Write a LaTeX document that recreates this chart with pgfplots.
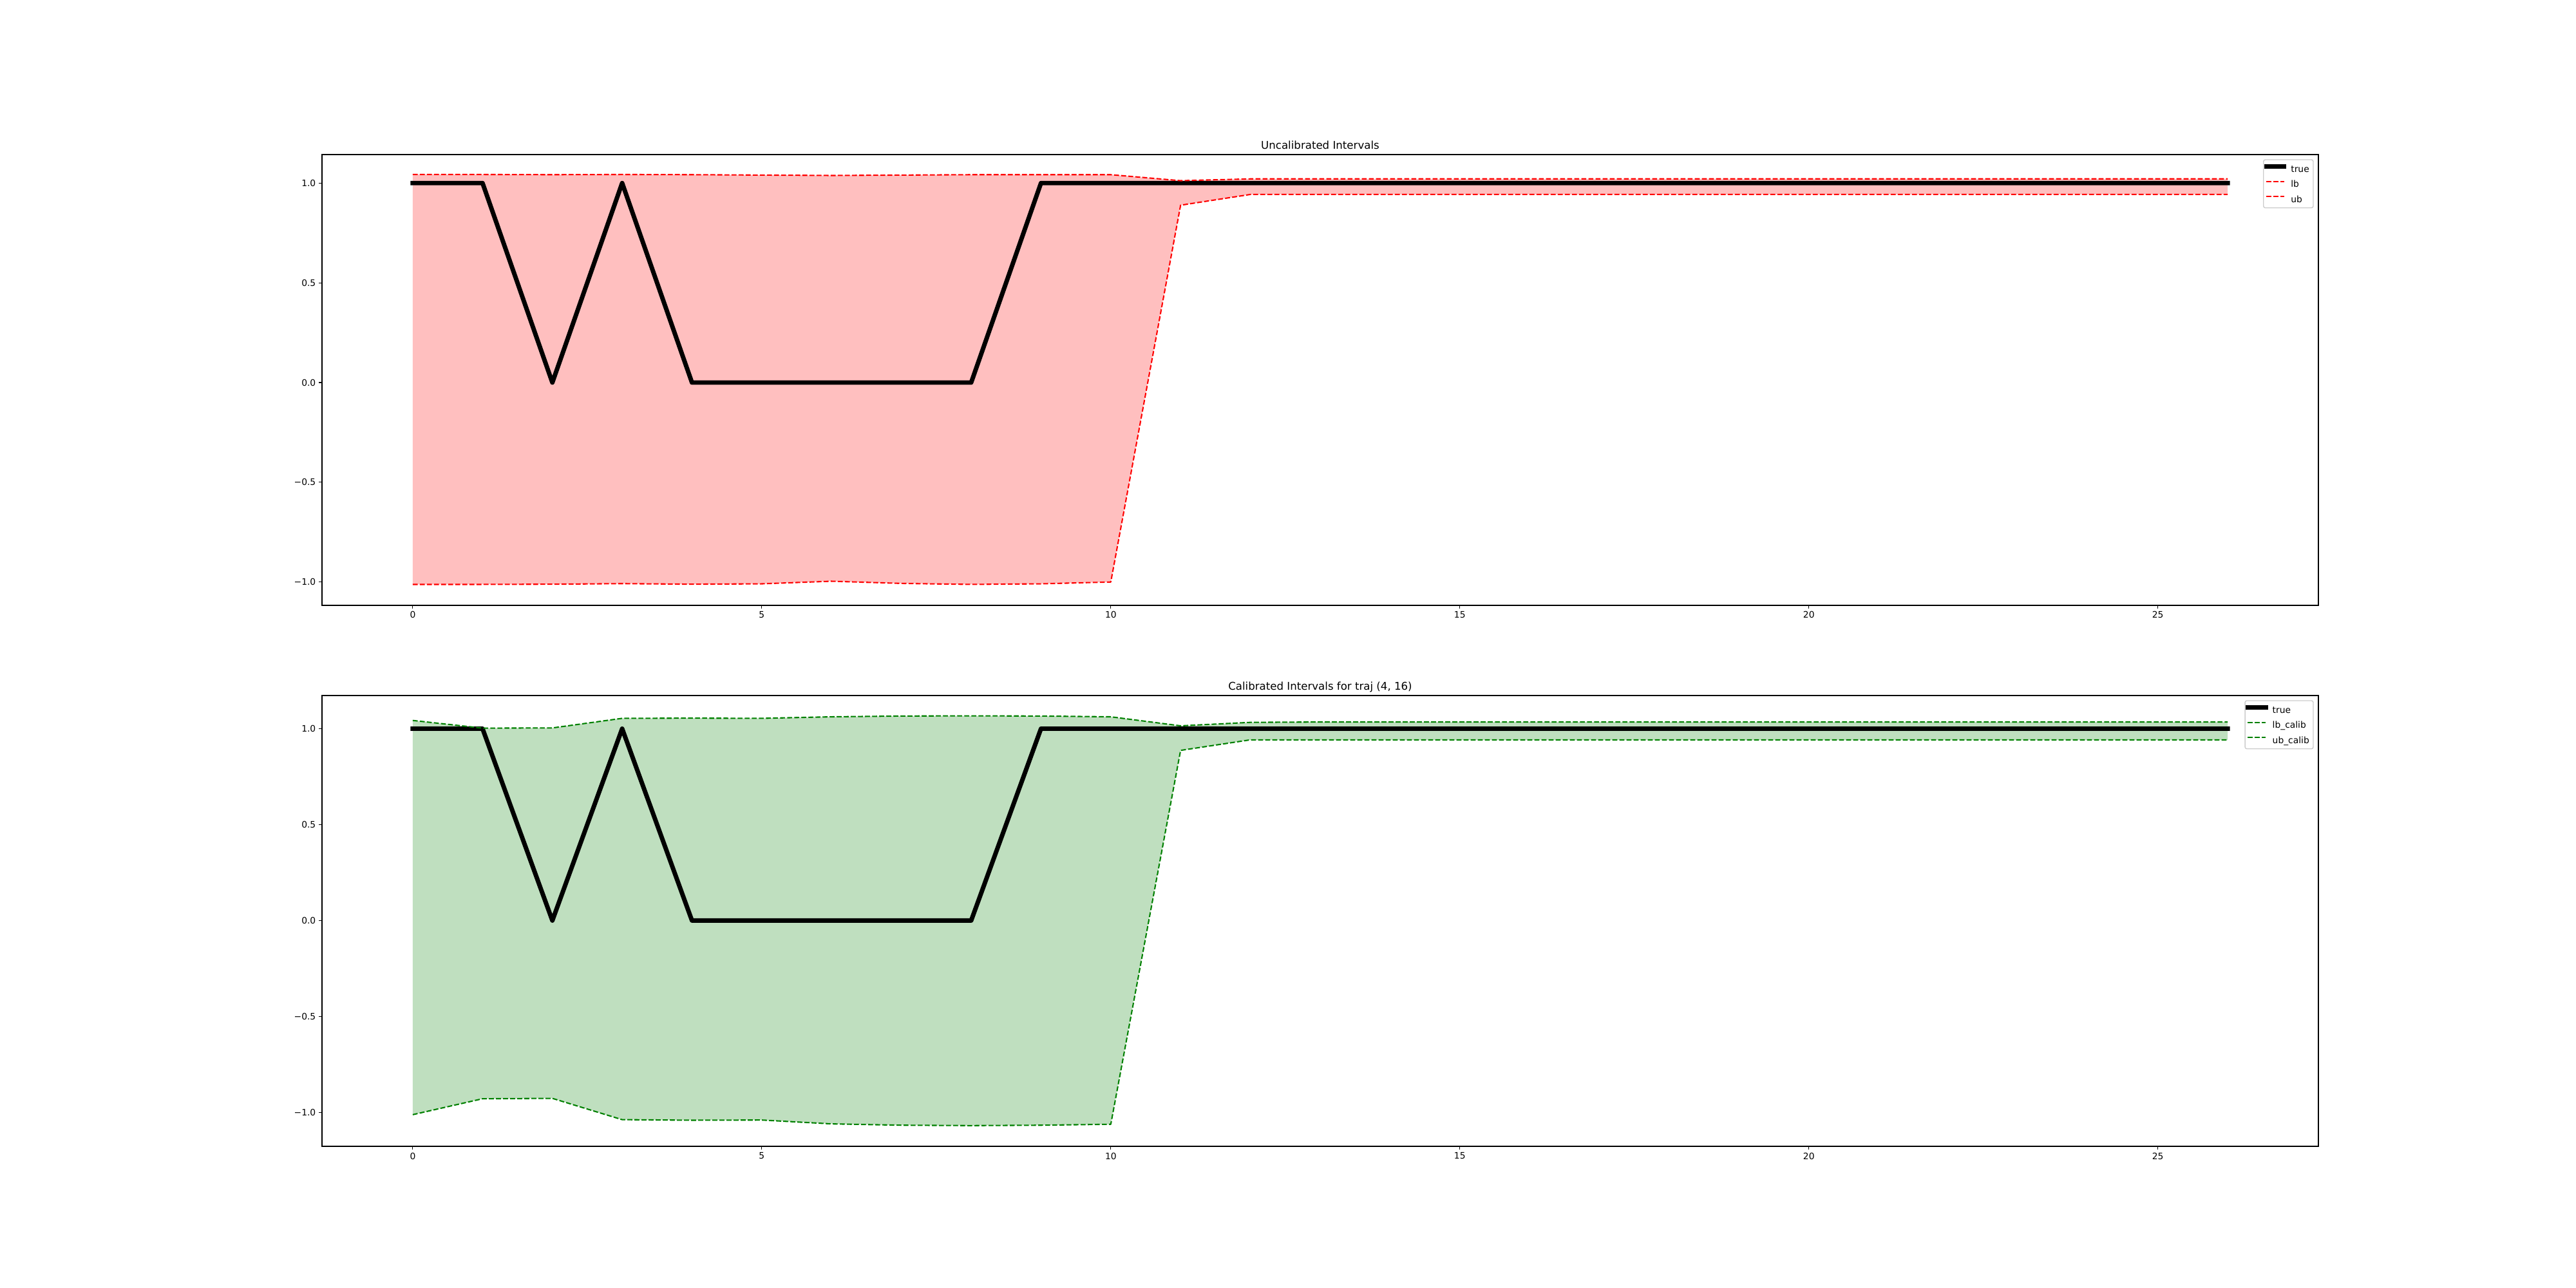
\documentclass[border=0pt]{standalone}
\usepackage{fontspec}
\setmainfont{DejaVu Sans}
\usepackage{pgfplots}
\pgfplotsset{compat=1.18}
\usepackage{pgfplotstable}
\definecolor{mplgreen}{RGB}{0,128,0}
\pgfplotstableread{
x true lb ub lbc ubc
0 1 -1.012 1.043 -1.012 1.043
1 1 -1.012 1.043 -0.929 1.003
2 0 -1.011 1.042 -0.927 1.004
3 1 -1.008 1.043 -1.038 1.054
4 0 -1.011 1.042 -1.041 1.055
5 0 -1.009 1.040 -1.040 1.054
6 0 -0.996 1.038 -1.060 1.062
7 0 -1.007 1.040 -1.067 1.066
8 0 -1.012 1.042 -1.069 1.067
9 1 -1.009 1.042 -1.067 1.066
10 1 -1.000 1.042 -1.062 1.062
11 1 0.889 1.012 0.887 1.015
12 1 0.943 1.021 0.942 1.033
13 1 0.943 1.021 0.942 1.035
14 1 0.943 1.021 0.942 1.035
15 1 0.943 1.021 0.942 1.035
16 1 0.943 1.021 0.942 1.035
17 1 0.943 1.021 0.942 1.035
18 1 0.943 1.021 0.942 1.035
19 1 0.943 1.021 0.942 1.035
20 1 0.943 1.021 0.942 1.035
21 1 0.943 1.021 0.942 1.035
22 1 0.943 1.021 0.942 1.035
23 1 0.943 1.021 0.942 1.035
24 1 0.943 1.021 0.942 1.035
25 1 0.943 1.021 0.942 1.035
26 1 0.943 1.021 0.942 1.035
}\data
% band polygons: upper bound forward, lower bound backward
\pgfplotstableread{
x y
0 1.043
1 1.043
2 1.042
3 1.043
4 1.042
5 1.040
6 1.038
7 1.040
8 1.042
9 1.042
10 1.042
11 1.012
12 1.021
26 1.021
26 0.943
12 0.943
11 0.889
10 -1.000
9 -1.009
8 -1.012
7 -1.007
6 -0.996
5 -1.009
4 -1.011
3 -1.008
2 -1.011
1 -1.012
0 -1.012
}\bandA
\pgfplotstableread{
x y
0 1.043
1 1.003
2 1.004
3 1.054
4 1.055
5 1.054
6 1.062
7 1.066
8 1.067
9 1.066
10 1.062
11 1.015
12 1.033
13 1.035
26 1.035
26 0.942
12 0.942
11 0.887
10 -1.062
9 -1.067
8 -1.069
7 -1.067
6 -1.060
5 -1.040
4 -1.041
3 -1.038
2 -0.927
1 -0.929
0 -1.012
}\bandB
\pgfplotsset{
  mplaxis/.style={
    scale only axis, width=31in, height=7in, anchor=south west,
    xmin=-1.3, xmax=27.3,
    axis line style={line width=0.8pt, black},
    tick pos=left, tick align=outside, major tick length=3.5pt,
    major tick style={line width=0.8pt, black},
    xtick={0,5,10,15,20,25}, xticklabels={0,5,10,15,20,25},
    ytick={-1,-0.5,0,0.5,1}, yticklabels={−1.0,−0.5,0.0,0.5,1.0},
    ticklabel style={font=\fontsize{10}{12}\selectfont},
    /pgf/number format/assume math mode=true,
    every axis title shift=0pt,
    title style={font=\fontsize{12}{14}\selectfont, at={(0.5,1)}, anchor=base, yshift=6pt, inner sep=0pt},
    legend style={at={(1,1)}, anchor=north east, xshift=-5.3pt, yshift=-5.3pt,
      draw=black!20, line width=1pt, rounded corners=2pt, fill=white, fill opacity=0.8, text opacity=1,
      font=\fontsize{10}{12}\selectfont, inner xsep=4.5pt, inner ysep=4.1pt, row sep=4.9pt, column sep=7.7pt,
      nodes={inner sep=0pt, text height=7.9pt, text depth=2.1pt}},
    legend cell align=left,
    legend image code/.code={\draw[##1, overlay] (0pt,3.6pt) -- (20pt,3.6pt); \pgfpathrectangle{\pgfpoint{1.4pt}{0pt}}{\pgfpoint{18.6pt}{7pt}}\pgfusepath{}},
  },
  truestyle/.style={black, line width=5pt, line cap=rect, line join=round},
  dstyle/.style={line width=1.5pt, dash pattern=on 5.55pt off 2.4pt, line join=round},
}
\begin{document}
\begin{tikzpicture}
\path[use as bounding box] (0,0) rectangle (40in,20in);
\begin{axis}[mplaxis, at={(5in,10.6in)}, ymin=-1.117, ymax=1.143, title={Uncalibrated Intervals}]
\addplot[fill={rgb,255:red,255;green,191;blue,191}, draw=none, forget plot] table[x=x,y=y] {\bandA} -- cycle;
\addplot[truestyle] table[x=x,y=true] {\data};
\addlegendentry{true}
\addplot[red, dstyle] table[x=x,y=lb] {\data};
\addlegendentry{lb}
\addplot[red, dstyle] table[x=x,y=ub] {\data};
\addlegendentry{ub}
\end{axis}
\begin{axis}[mplaxis, at={(5in,2.2in)}, ymin=-1.177, ymax=1.173, title={Calibrated Intervals for traj (4, 16)}]
\addplot[fill={rgb,255:red,191;green,223;blue,191}, draw=none, forget plot] table[x=x,y=y] {\bandB} -- cycle;
\addplot[truestyle] table[x=x,y=true] {\data};
\addlegendentry{true}
\addplot[mplgreen, dstyle] table[x=x,y=lbc] {\data};
\addlegendentry{lb\_calib}
\addplot[mplgreen, dstyle] table[x=x,y=ubc] {\data};
\addlegendentry{ub\_calib}
\end{axis}
\end{tikzpicture}
\end{document}
